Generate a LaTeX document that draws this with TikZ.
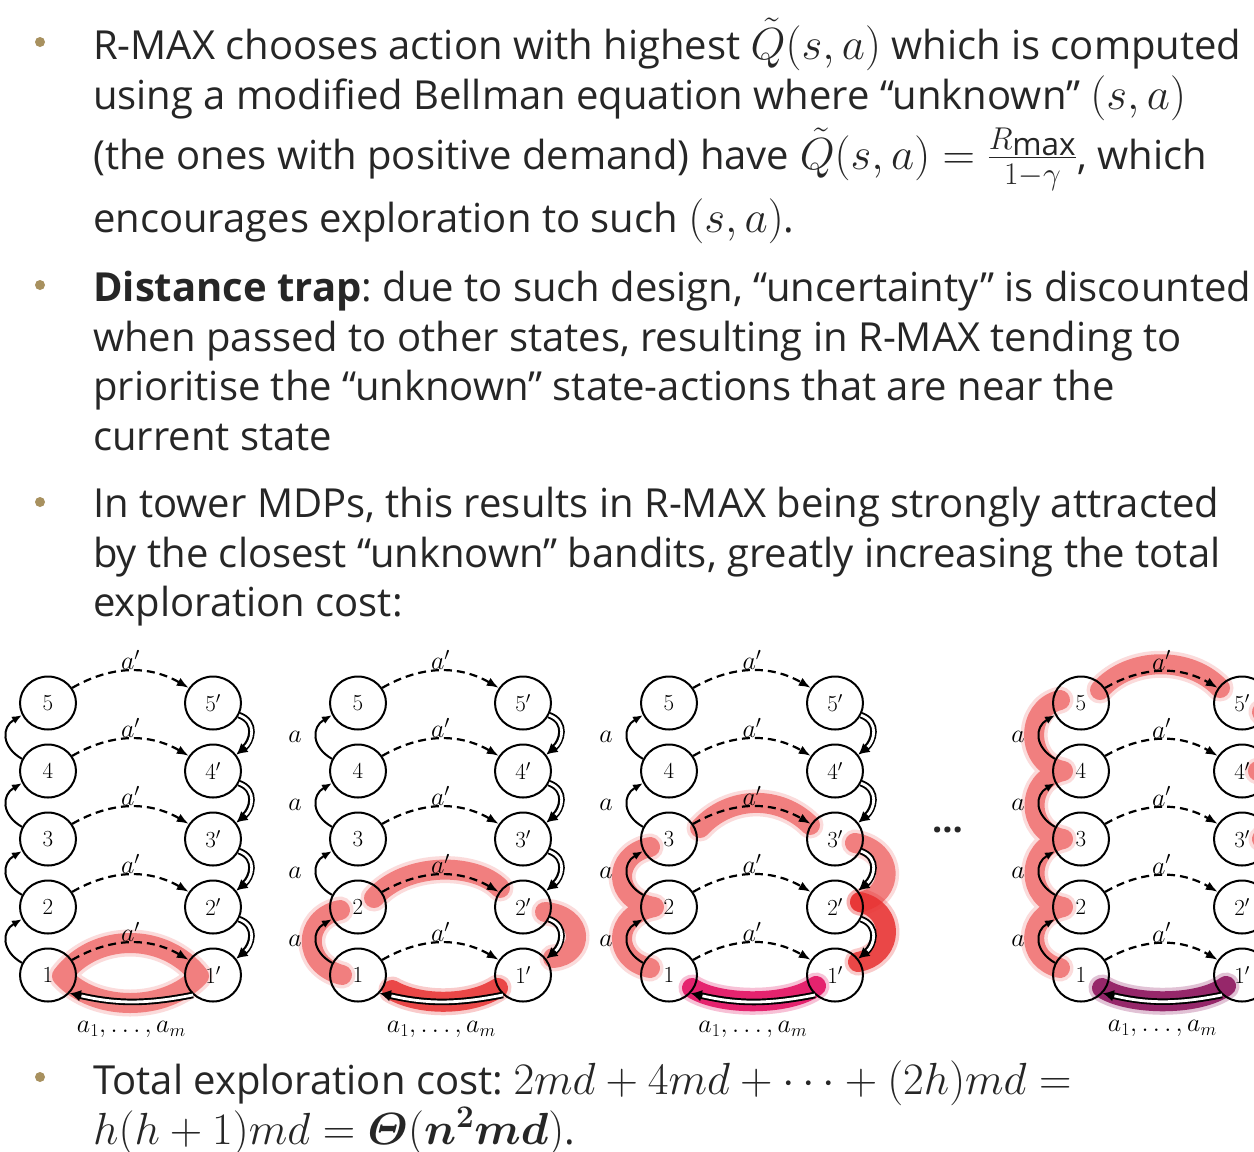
\RequirePackage{fix-cm}
\documentclass[tikz,border=0pt]{standalone}
\usepackage{amsmath,bm}
\usepackage{fontspec}
\setmainfont{Open Sans}
\usetikzlibrary{arrows.meta,shapes.geometric}
\definecolor{txt}{HTML}{262626}
\definecolor{bul}{HTML}{A8915F}
\definecolor{hl}{RGB}{240,112,112}
\definecolor{hlr}{RGB}{232,48,48}
\definecolor{hlm}{RGB}{226,8,92}
\definecolor{hlp}{RGB}{138,12,88}
\newcommand{\tfont}{\fontsize{40}{48}\selectfont\frenchspacing}
\newcommand{\mth}[1]{{\fontsize{45}{50}\selectfont$#1$}}
\tikzset{
  txtline/.style={anchor=base west, inner sep=0pt, font=\tfont, text=txt},
  bulletdot/.style={circle, fill=bul, minimum size=10pt, inner sep=0pt},
  st/.style={ellipse, draw, line width=2pt, minimum width=56pt, minimum height=53pt, inner sep=0pt, font=\fontsize{23}{25}\selectfont},
  lab/.style={font=\fontsize{26}{28}\selectfont, inner sep=1pt},
  dasharr/.style={dash pattern=on 8pt off 5pt, line width=2.2pt, -{Latex[length=12pt,width=9pt]}},
  uparr/.style={line width=2pt, -{Latex[length=10pt,width=8pt]}},
  dbl/.style={line width=6.6pt, -{Latex[length=11pt,width=12pt]},
    postaction={draw=white, line width=2.8pt, -, shorten >=12pt}},
  hlt/.style={draw=#1, line width=20pt, line cap=round, line join=round, opacity=0.85,
    preaction={draw=#1, line width=27pt, line cap=round, line join=round, opacity=0.25}},
}
\newcommand{\tower}[4]{%
  \foreach \i in {1,...,5}{%
    \pgfmathsetmacro\yy{-975+(\i-1)*68}%
    \node[st] (#1l\i) at (#2,\yy) {$\i$};
    \node[st] (#1r\i) at (#3,\yy) {$\i'$};
  }%
  \foreach \i in {1,...,5}{%
    \draw[dasharr] (#1l\i.32) to[bend left=30] node[lab,midway,above=-1pt] (#1ap\i) {$a'$} (#1r\i.148);
  }%
  \foreach \i/\j in {1/2,2/3,3/4,4/5}{%
    \draw[uparr] (#1l\i.155) to[out=150,in=210,looseness=1.4] (#1l\j.205);
  }%
  \ifnum#4=1
  \foreach \i in {1,...,4}{%
    \pgfmathsetmacro\ya{-975+(\i-1)*68+34}%
    \node[lab] (#1a\i) at ({#2-63},\ya) {$a$};
  }%
  \fi
  \foreach \i/\j in {5/4,4/3,3/2,2/1}{%
    \draw[dbl] (#1r\i.-25) to[out=-20,in=40,looseness=1.3] (#1r\j.35);
  }%
  \draw[dbl] (#1r1.225) to[bend left=12] node[lab,midway,below=15pt] (#1am) {$a_1,\ldots,a_m$} (#1l1.-40);
}
\begin{document}
\begin{tikzpicture}[x=1pt,y=1pt]
\clip (0,0) rectangle (1254,-1152);
\fill[white] (0,0) rectangle (1254,-1152);

% ---------- text ----------
\node[bulletdot] (b1) at (40,-42) {};
\node[txtline] (t1) at (93,-59) {R-MAX chooses action with highest \mth{\tilde{Q}(s,a)} which is computed};
\node[txtline] (t2) at (93,-109) {using a modified Bellman equation where “unknown” \mth{(s,a)}};
\node[txtline] (t3) at (93,-169) {(the ones with positive demand) have \mth{\tilde{Q}(s,a)=\frac{R_{\scriptstyle\max}}{1-\gamma}}, which};
\node[txtline] (t4) at (93,-232) {encourages exploration to such \mth{(s,a)}.};

\node[bulletdot] (b2) at (40,-285) {};
\node[txtline] (t5) at (93,-301) {\textbf{Distance trap}: due to such design, “uncertainty” is discounted};
\node[txtline] (t6) at (93,-351) {when passed to other states, resulting in R-MAX tending to};
\node[txtline] (t7) at (93,-400) {prioritise the “unknown” state-actions that are near the};
\node[txtline] (t8) at (93,-450) {current state};

\node[bulletdot] (b3) at (40,-502) {};
\node[txtline] (t9) at (93,-517) {In tower MDPs, this results in R-MAX being strongly attracted};
\node[txtline] (t10) at (93,-567) {by the closest “unknown” bandits, greatly increasing the total};
\node[txtline] (t11) at (93,-616) {exploration cost:};

\node[bulletdot] (b4) at (40,-1077) {};
\node[txtline] (t12) at (93,-1094) {Total exploration cost: \mth{2md+4md+\cdots+(2h)md=}};
\node[txtline] (t13) at (93,-1144) {\mth{h(h+1)md=\bm{\varTheta}(\bm{n}^{\bm{2}}\bm{md})}.};

% ---------- highlights ----------
% tower 1
\draw[hlt=hl] (62,-976) .. controls (95,-932) and (165,-932) .. (199,-976) .. controls (165,-1012) and (95,-1012) .. cycle;
% tower 2
\draw[hlt=hl] (342,-975) .. controls (302,-965) and (302,-918) .. (340,-910);
\draw[hlt=hl] (374,-898) .. controls (405,-862) and (475,-862) .. (500,-888);
\draw[hlt=hl] (545,-912) .. controls (585,-915) and (585,-955) .. (553,-958);
\draw[hlt=hlr] (392,-990) .. controls (420,-1006) and (470,-1006) .. (498,-988);
% tower 3
\draw[hlt=hl] (650,-968) .. controls (612,-960) and (612,-915) .. (654,-907) .. controls (612,-900) and (612,-855) .. (650,-847);
\draw[hlt=hl] (700,-828) .. controls (730,-795) and (780,-795) .. (810,-825);
\draw[hlt=hl] (855,-843) .. controls (895,-850) and (895,-895) .. (860,-902);
\draw[hlt=hlr] (860,-902) .. controls (895,-910) and (895,-955) .. (858,-962);
\draw[hlt=hlm] (692,-988) .. controls (720,-1006) and (790,-1006) .. (816,-986);
% tower 4
\draw[hlt=hl] (1060,-968) .. controls (1025,-960) and (1025,-915) .. (1063,-907)
   .. controls (1025,-900) and (1025,-847) .. (1063,-839)
   .. controls (1025,-832) and (1025,-779) .. (1063,-771)
   .. controls (1025,-764) and (1025,-708) .. (1060,-700);
\draw[hlt=hl] (1100,-690) .. controls (1130,-656) and (1190,-656) .. (1220,-688);
\draw[hlt=hl] (1262,-712) .. controls (1300,-720) and (1300,-763) .. (1258,-771)
   .. controls (1300,-779) and (1300,-832) .. (1262,-839);
\draw[hlt=hlp] (1102,-988) .. controls (1130,-1006) and (1200,-1006) .. (1226,-986);

% ---------- towers ----------
\tower{A}{48}{213}{0}
\tower{B}{358}{523}{1}
\tower{C}{669}{835}{1}
\tower{D}{1081}{1242}{1}

\node[font=\fontsize{36}{40}\selectfont\bfseries, text=txt, inner sep=0pt] (dots) at (948,-830) {…};
\end{tikzpicture}
\end{document}
